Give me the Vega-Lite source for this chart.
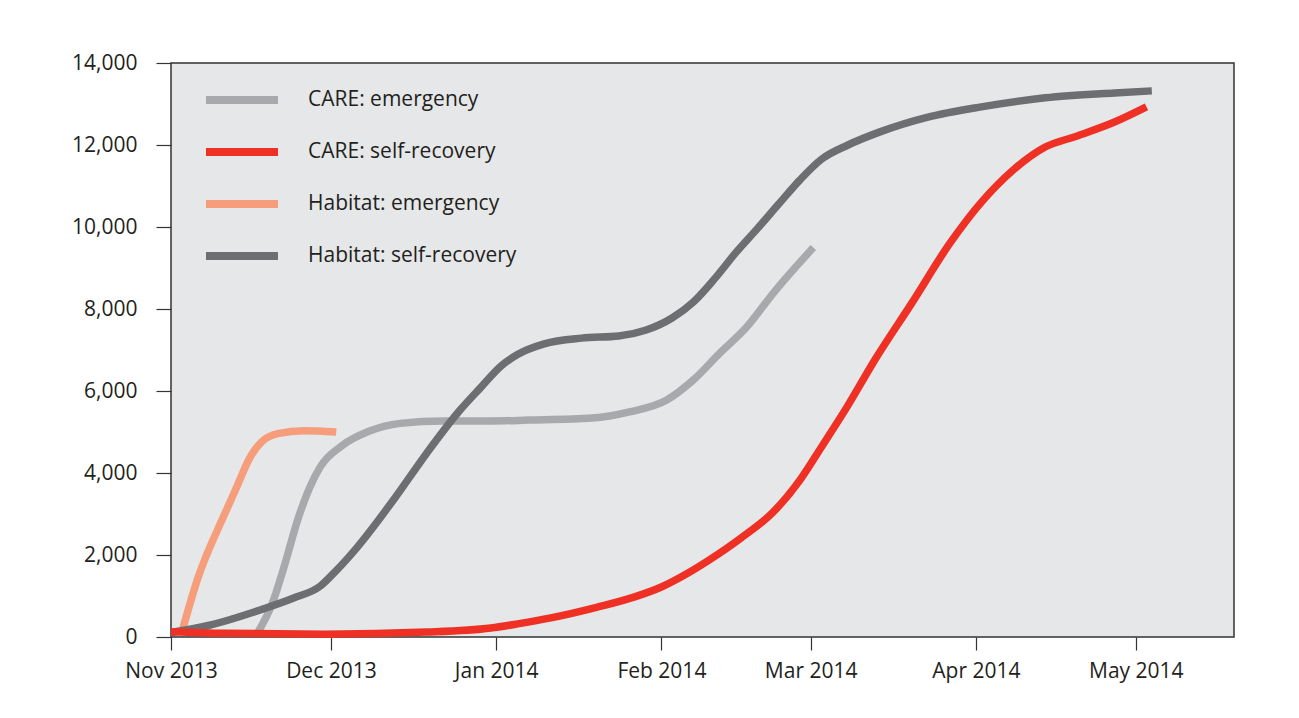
{
  "$schema": "https://vega.github.io/schema/vega-lite/v6.json",
  "width": 1063,
  "height": 574,
  "autosize": {"type": "none"},
  "padding": {"left": 171, "top": 63, "right": 65, "bottom": 81},
  "background": "white",
  "config": {
    "font": "Open Sans",
    "view": {"fill": "#e6e7e8", "stroke": "#333333", "strokeWidth": 1.5},
    "axis": {
      "domain": false,
      "grid": false,
      "tickColor": "#333333",
      "tickWidth": 1.2,
      "labelColor": "#231f20",
      "labelFontSize": 21,
      "labelFont": "Open Sans",
      "title": null
    },
    "legend": {
      "labelFont": "Open Sans"
    }
  },
  "data": {
    "values": [
      {"series": "Habitat: emergency", "date": "2013-11-03", "value": 100},
      {"series": "Habitat: emergency", "date": "2013-11-06", "value": 1420},
      {"series": "Habitat: emergency", "date": "2013-11-11", "value": 2980},
      {"series": "Habitat: emergency", "date": "2013-11-13", "value": 3560},
      {"series": "Habitat: emergency", "date": "2013-11-16", "value": 4420},
      {"series": "Habitat: emergency", "date": "2013-11-18", "value": 4760},
      {"series": "Habitat: emergency", "date": "2013-11-21", "value": 4960},
      {"series": "Habitat: emergency", "date": "2013-11-26", "value": 5030},
      {"series": "Habitat: emergency", "date": "2013-12-02", "value": 5000},

      {"series": "CARE: emergency", "date": "2013-11-17", "value": 50},
      {"series": "CARE: emergency", "date": "2013-11-20", "value": 820},
      {"series": "CARE: emergency", "date": "2013-11-22", "value": 1620},
      {"series": "CARE: emergency", "date": "2013-11-25", "value": 2950},
      {"series": "CARE: emergency", "date": "2013-11-27", "value": 3640},
      {"series": "CARE: emergency", "date": "2013-11-29", "value": 4150},
      {"series": "CARE: emergency", "date": "2013-12-03", "value": 4660},
      {"series": "CARE: emergency", "date": "2013-12-08", "value": 5010},
      {"series": "CARE: emergency", "date": "2013-12-14", "value": 5210},
      {"series": "CARE: emergency", "date": "2013-12-22", "value": 5270},
      {"series": "CARE: emergency", "date": "2013-12-31", "value": 5270},
      {"series": "CARE: emergency", "date": "2014-01-07", "value": 5290},
      {"series": "CARE: emergency", "date": "2014-01-19", "value": 5340},
      {"series": "CARE: emergency", "date": "2014-01-26", "value": 5490},
      {"series": "CARE: emergency", "date": "2014-02-02", "value": 5780},
      {"series": "CARE: emergency", "date": "2014-02-07", "value": 6270},
      {"series": "CARE: emergency", "date": "2014-02-12", "value": 6930},
      {"series": "CARE: emergency", "date": "2014-02-17", "value": 7560},
      {"series": "CARE: emergency", "date": "2014-02-22", "value": 8390},
      {"series": "CARE: emergency", "date": "2014-03-01T12:00:00Z", "value": 9500},

      {"series": "Habitat: self-recovery", "date": "2013-11-01", "value": 110},
      {"series": "Habitat: self-recovery", "date": "2013-11-08", "value": 280},
      {"series": "Habitat: self-recovery", "date": "2013-11-18", "value": 670},
      {"series": "Habitat: self-recovery", "date": "2013-11-24", "value": 950},
      {"series": "Habitat: self-recovery", "date": "2013-11-29", "value": 1240},
      {"series": "Habitat: self-recovery", "date": "2013-12-02", "value": 1620},
      {"series": "Habitat: self-recovery", "date": "2013-12-06", "value": 2200},
      {"series": "Habitat: self-recovery", "date": "2013-12-13", "value": 3390},
      {"series": "Habitat: self-recovery", "date": "2013-12-19", "value": 4490},
      {"series": "Habitat: self-recovery", "date": "2013-12-25", "value": 5500},
      {"series": "Habitat: self-recovery", "date": "2013-12-29", "value": 6070},
      {"series": "Habitat: self-recovery", "date": "2014-01-02", "value": 6620},
      {"series": "Habitat: self-recovery", "date": "2014-01-05", "value": 6890},
      {"series": "Habitat: self-recovery", "date": "2014-01-10", "value": 7150},
      {"series": "Habitat: self-recovery", "date": "2014-01-17", "value": 7290},
      {"series": "Habitat: self-recovery", "date": "2014-01-24", "value": 7340},
      {"series": "Habitat: self-recovery", "date": "2014-01-29", "value": 7480},
      {"series": "Habitat: self-recovery", "date": "2014-02-03", "value": 7780},
      {"series": "Habitat: self-recovery", "date": "2014-02-07", "value": 8170},
      {"series": "Habitat: self-recovery", "date": "2014-02-11", "value": 8740},
      {"series": "Habitat: self-recovery", "date": "2014-02-15", "value": 9380},
      {"series": "Habitat: self-recovery", "date": "2014-02-19", "value": 9960},
      {"series": "Habitat: self-recovery", "date": "2014-02-23", "value": 10560},
      {"series": "Habitat: self-recovery", "date": "2014-02-27", "value": 11150},
      {"series": "Habitat: self-recovery", "date": "2014-03-03", "value": 11650},
      {"series": "Habitat: self-recovery", "date": "2014-03-08", "value": 12000},
      {"series": "Habitat: self-recovery", "date": "2014-03-14", "value": 12320},
      {"series": "Habitat: self-recovery", "date": "2014-03-23", "value": 12680},
      {"series": "Habitat: self-recovery", "date": "2014-04-02", "value": 12930},
      {"series": "Habitat: self-recovery", "date": "2014-04-14", "value": 13150},
      {"series": "Habitat: self-recovery", "date": "2014-04-27", "value": 13270},
      {"series": "Habitat: self-recovery", "date": "2014-05-04", "value": 13320},

      {"series": "CARE: self-recovery", "date": "2013-11-01", "value": 130},
      {"series": "CARE: self-recovery", "date": "2013-11-11", "value": 90},
      {"series": "CARE: self-recovery", "date": "2013-11-30", "value": 70},
      {"series": "CARE: self-recovery", "date": "2013-12-19", "value": 120},
      {"series": "CARE: self-recovery", "date": "2013-12-31", "value": 220},
      {"series": "CARE: self-recovery", "date": "2014-01-05", "value": 320},
      {"series": "CARE: self-recovery", "date": "2014-01-11", "value": 460},
      {"series": "CARE: self-recovery", "date": "2014-01-20", "value": 730},
      {"series": "CARE: self-recovery", "date": "2014-01-27", "value": 980},
      {"series": "CARE: self-recovery", "date": "2014-02-01", "value": 1220},
      {"series": "CARE: self-recovery", "date": "2014-02-06", "value": 1560},
      {"series": "CARE: self-recovery", "date": "2014-02-10", "value": 1880},
      {"series": "CARE: self-recovery", "date": "2014-02-16", "value": 2420},
      {"series": "CARE: self-recovery", "date": "2014-02-22", "value": 3050},
      {"series": "CARE: self-recovery", "date": "2014-02-27", "value": 3830},
      {"series": "CARE: self-recovery", "date": "2014-03-03", "value": 4630},
      {"series": "CARE: self-recovery", "date": "2014-03-08", "value": 5650},
      {"series": "CARE: self-recovery", "date": "2014-03-13", "value": 6750},
      {"series": "CARE: self-recovery", "date": "2014-03-20", "value": 8150},
      {"series": "CARE: self-recovery", "date": "2014-03-27", "value": 9580},
      {"series": "CARE: self-recovery", "date": "2014-04-02", "value": 10600},
      {"series": "CARE: self-recovery", "date": "2014-04-08", "value": 11390},
      {"series": "CARE: self-recovery", "date": "2014-04-14", "value": 11950},
      {"series": "CARE: self-recovery", "date": "2014-04-20", "value": 12220},
      {"series": "CARE: self-recovery", "date": "2014-04-27", "value": 12560},
      {"series": "CARE: self-recovery", "date": "2014-05-03", "value": 12930}
    ]
  },
  "mark": {"type": "line", "interpolate": "monotone", "strokeWidth": 7.5, "strokeCap": "butt"},
  "encoding": {
    "x": {
      "field": "date",
      "type": "temporal",
      "scale": {
        "type": "utc",
        "domain": [
          {"year": 2013, "month": 11, "date": 1, "utc": true},
          {"year": 2014, "month": 5, "date": 19, "hours": 10, "utc": true}
        ]
      },
      "axis": {
        "values": [
          {"year": 2013, "month": 11, "date": 1, "utc": true},
          {"year": 2013, "month": 12, "date": 1, "utc": true},
          {"year": 2014, "month": 1, "date": 1, "utc": true},
          {"year": 2014, "month": 2, "date": 1, "utc": true},
          {"year": 2014, "month": 3, "date": 1, "utc": true},
          {"year": 2014, "month": 4, "date": 1, "utc": true},
          {"year": 2014, "month": 5, "date": 1, "utc": true}
        ],
        "labelExpr": "utcFormat(datum.value, '%b %Y')",
        "tickSize": 13,
        "labelPadding": 10,
        "labelFlush": false,
        "labelOverlap": false
      }
    },
    "y": {
      "field": "value",
      "type": "quantitative",
      "scale": {"domain": [0, 14000], "nice": false},
      "axis": {
        "values": [0, 2000, 4000, 6000, 8000, 10000, 12000, 14000],
        "labelExpr": "format(datum.value, ',d')",
        "tickSize": 15,
        "labelPadding": 19
      }
    },
    "color": {
      "field": "series",
      "type": "nominal",
      "scale": {
        "domain": ["CARE: emergency", "CARE: self-recovery", "Habitat: emergency", "Habitat: self-recovery"],
        "range": ["#a7a9ac", "#ee3124", "#f69e7b", "#6d6e71"]
      },
      "legend": {
        "title": null,
        "orient": "none",
        "legendX": 43,
        "legendY": 9,
        "symbolType": "M-1.5,0H1.5",
        "symbolSize": 2304,
        "symbolStrokeWidth": 8,
        "labelFontSize": 21,
        "labelColor": "#231f20",
        "labelOffset": 38,
        "labelLimit": 400,
        "rowPadding": 8
      }
    }
  }
}
